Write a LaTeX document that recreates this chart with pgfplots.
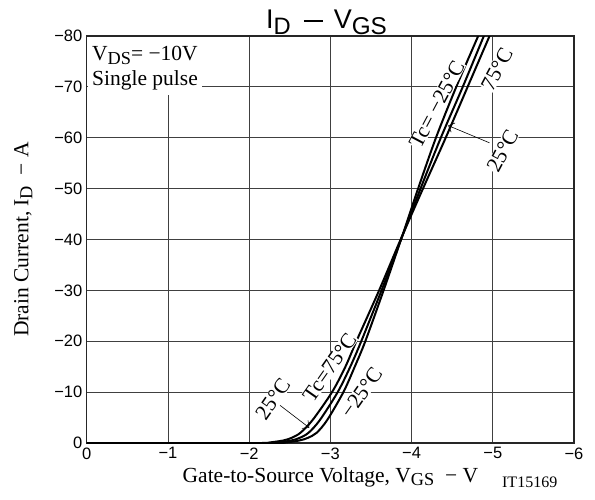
\documentclass[border=0pt]{standalone}
\usepackage{fontspec}
\usepackage{graphicx}
\setmainfont{Liberation Serif}
\newfontfamily\arialf{Liberation Sans}
\usepackage{pgfplots}
\pgfplotsset{compat=1.18}
\usetikzlibrary{arrows.meta}

% lowered, slightly smaller subscript as on the data sheet
\newcommand{\sub}[1]{\raisebox{-0.4ex}{\scalebox{0.85}{#1}}}
\newcommand{\ticks}{\arialf\fontsize{16.5}{17}\selectfont}
\newcommand{\annot}{\fontsize{21.5}{23}\selectfont}

\begin{document}
\begin{tikzpicture}
\useasboundingbox (-86.8pt,-56pt) rectangle (508.2pt,443pt);
\begin{axis}[
  width=487.2pt, height=407pt, scale only axis,
  xmin=-6, xmax=0, ymin=-80, ymax=0,
  x dir=reverse, y dir=reverse,
  xtick={0,-1,-2,-3,-4,-5,-6},
  xticklabels={0,−1,−2,−3,−4,−5,−6},
  ytick={0,-10,-20,-30,-40,-50,-60,-70,-80},
  yticklabels={0,−10,−20,−30,−40,−50,−60,−70,−80},
  grid=major,
  major grid style={black!75, line width=0.8pt},
  axis line style={black!85, line width=1.4pt},
  major tick length=0pt,
  ticklabel style={font=\ticks},
  xticklabel style={yshift=-1pt},
  yticklabel style={xshift=-1pt},
  xlabel={Gate-to-Source Voltage, V\sub{GS} \ −\ V},
  ylabel={Drain Current, I\sub{D} \ −\ A},
  label style={font=\annot},
  xlabel style={yshift=-1pt},
  ylabel style={yshift=15pt},
]
% Tc = 75 C
\addplot[black, line width=2pt, smooth, tension=0.5] coordinates {
  (0,0) (-1.5,0) (-2.15,0) (-2.25,-0.1) (-2.42,-0.5) (-2.52,-1.0) (-2.63,-2.0)
  (-2.78,-4.5) (-3.02,-10) (-3.185,-15) (-3.32,-20) (-3.60,-30) (-3.865,-40)
  (-4.14,-50) (-4.42,-60) (-4.69,-70) (-4.96,-80) (-5.05,-83.3)};
% Tc = 25 C
\addplot[black, line width=2pt, smooth, tension=0.5] coordinates {
  (0,0) (-1.6,0) (-2.25,0) (-2.35,-0.1) (-2.52,-0.5) (-2.62,-1.0) (-2.73,-2.0)
  (-2.87,-4.5) (-3.09,-10) (-3.245,-15) (-3.38,-20) (-3.63,-30) (-3.87,-40)
  (-4.11,-50) (-4.36,-60) (-4.63,-70) (-4.89,-80) (-4.98,-83.3)};
% Tc = -25 C
\addplot[black, line width=2pt, smooth, tension=0.5] coordinates {
  (0,0) (-1.7,0) (-2.35,0) (-2.45,-0.1) (-2.62,-0.5) (-2.72,-1.0) (-2.83,-2.0)
  (-2.96,-4.5) (-3.16,-10) (-3.30,-15) (-3.43,-20) (-3.655,-30) (-3.87,-40)
  (-4.08,-50) (-4.30,-60) (-4.55,-70) (-4.82,-80) (-4.91,-83.3)};

% conditions box
\fill[white] ([shift={(0.8pt,-0.8pt)}]rel axis cs:0,1) rectangle (axis cs:-1.417,-68.4);
\node[anchor=base west, font=\annot, inner sep=0pt] at (axis cs:-0.064,-75.1) {V\sub{DS}= −10V};
\node[anchor=base west, font=\annot, inner sep=0pt] at (axis cs:-0.064,-70.2) {Single pulse};

% curve labels, upper group
\node[rotate=62, font=\annot, fill=white, inner sep=0.5pt] at (axis cs:-4.31,-66.6) {Tc= −25°C};
\node[rotate=62, font=\annot, fill=white, inner sep=0.5pt] at (axis cs:-5.05,-73.5) {75°C};
\node[rotate=62, font=\annot, fill=white, inner sep=0.5pt] at (axis cs:-5.12,-57.4) {25°C};
\draw[black, line width=0.6pt, -{Straight Barb[length=5pt]}] (axis cs:-4.96,-59.0) -- (axis cs:-4.45,-62.4);

% curve labels, lower group
\node[rotate=55, font=\annot, fill=white, inner sep=0.5pt] at (axis cs:-2.99,-14.9) {Tc=75°C};
\node[rotate=55, font=\annot, fill=white, inner sep=0.5pt] at (axis cs:-2.29,-8.6) {25°C};
\node[rotate=55, font=\annot, fill=white, inner sep=0.5pt] at (axis cs:-3.38,-9.9) {−25°C};
\draw[black, line width=0.6pt, -{Straight Barb[length=5pt]}] (axis cs:-2.38,-7.4) -- (axis cs:-2.74,-3.0);

\end{axis}
\node[anchor=base, font=\arialf\fontsize{27}{29}\selectfont] at (239.7pt,414pt)
  {I\raisebox{-0.4ex}{\scalebox{0.88}{D}}\hspace{13pt}\rule[6.5pt]{19pt}{2.2pt}\hspace{11pt}V\raisebox{-0.4ex}{\scalebox{0.9}{GS}}};
\node[anchor=base east, font=\fontsize{16}{17}\selectfont] at (474pt,-44pt) {IT15169};
\end{tikzpicture}
\end{document}
